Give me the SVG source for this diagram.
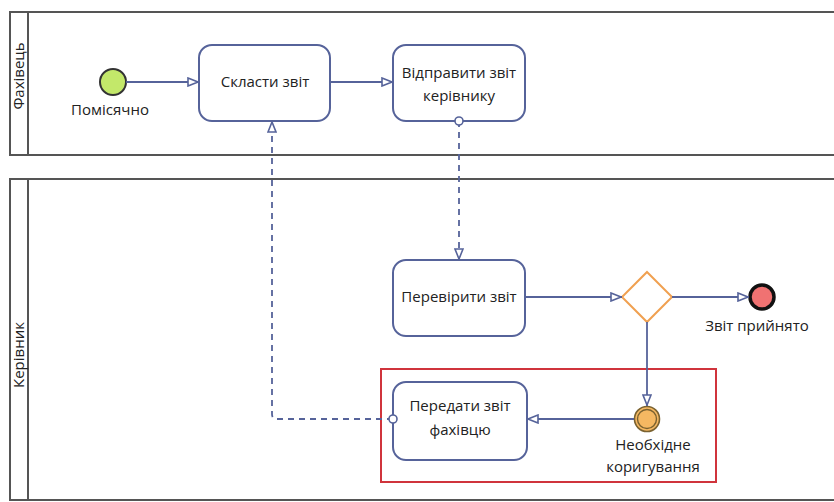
<svg xmlns="http://www.w3.org/2000/svg" width="834" height="502" viewBox="0 0 834 502">
<style>
.lane{fill:#fff;stroke:#555;stroke-width:2}
.task{fill:#fff;stroke:#56639a;stroke-width:2}
.flow{fill:none;stroke:#56639a;stroke-width:1.8}
.msg{fill:none;stroke:#56639a;stroke-width:1.8;stroke-dasharray:6,5}
.t{font-family:"Open Sans","Noto Sans",sans-serif;font-size:15px;fill:#222;text-anchor:middle}
</style>
<defs>
<marker id="arr" viewBox="0 0 12 10" refX="12" refY="5" markerWidth="12" markerHeight="10" markerUnits="userSpaceOnUse" orient="auto">
<path d="M1,1 L11,5 L1,9 Z" fill="#fff" stroke="#56639a" stroke-width="1.6"/>
</marker>
<marker id="dot" viewBox="0 0 10 10" refX="5" refY="5" markerWidth="10" markerHeight="10" markerUnits="userSpaceOnUse">
<circle cx="5" cy="5" r="4" fill="#fff" stroke="#56639a" stroke-width="1.6"/>
</marker>
</defs>
<g id="lane-fakhivets">
<rect class="lane" x="10" y="12" width="830" height="143"/>
<line x1="28" y1="12" x2="28" y2="155" stroke="#555" stroke-width="2"/>
<text class="t" transform="translate(24,76) rotate(-90)">Фахівець</text>
</g>
<g id="lane-kerivnyk">
<rect class="lane" x="10" y="179" width="830" height="321"/>
<line x1="28" y1="179" x2="28" y2="500" stroke="#555" stroke-width="2"/>
<text class="t" transform="translate(24,355) rotate(-90)">Керівник</text>
</g>
<g id="group-red">
<rect x="381" y="369" width="335" height="113" fill="none" stroke="#d0343c" stroke-width="2"/>
</g>
<g id="start">
<circle cx="113" cy="82" r="13" fill="#c3e86a" stroke="#333" stroke-width="2"/>
<text class="t" x="110" y="115">Помісячно</text>
</g>
<g id="task-sklasty">
<rect class="task" x="199" y="45" width="131" height="76" rx="13"/>
<text class="t" x="265" y="87">Скласти звіт</text>
</g>
<g id="task-vidpravyty">
<rect class="task" x="393" y="45" width="132" height="76" rx="13"/>
<text class="t" x="459" y="78">Відправити звіт</text>
<text class="t" x="459" y="101">керівнику</text>
</g>
<g id="task-pereviryty">
<rect class="task" x="393" y="260" width="132" height="76" rx="13"/>
<text class="t" x="459" y="302">Перевірити звіт</text>
</g>
<g id="gateway">
<path d="M647,272 L672,297 L647,322 L622,297 Z" fill="#fff" stroke="#f0a050" stroke-width="2"/>
</g>
<g id="end">
<circle cx="762" cy="297" r="12" fill="#f07272" stroke="#111" stroke-width="3.5"/>
<text class="t" x="757" y="331">Звіт прийнято</text>
</g>
<g id="event-koryguvannya">
<circle cx="647" cy="419" r="12.5" fill="#f5b862" stroke="#7a6230" stroke-width="1.6"/>
<circle cx="647" cy="419" r="9.5" fill="none" stroke="#7a6230" stroke-width="1.4"/>
<text class="t" x="653" y="450">Необхідне</text>
<text class="t" x="653" y="472">коригування</text>
</g>
<g id="task-peredaty">
<rect class="task" x="393" y="382" width="134" height="78" rx="13"/>
<text class="t" x="460" y="411">Передати звіт</text>
<text class="t" x="460" y="435">фахівцю</text>
</g>
<g id="connectors">
<line class="flow" x1="126" y1="82" x2="199" y2="82" marker-end="url(#arr)"/>
<line class="flow" x1="330" y1="82" x2="393" y2="82" marker-end="url(#arr)"/>
<line class="msg" x1="459" y1="121" x2="459" y2="260" marker-start="url(#dot)" marker-end="url(#arr)"/>
<line class="flow" x1="525" y1="297" x2="622" y2="297" marker-end="url(#arr)"/>
<line class="flow" x1="672" y1="297" x2="749" y2="297" marker-end="url(#arr)"/>
<line class="flow" x1="647" y1="322" x2="647" y2="406" marker-end="url(#arr)"/>
<line class="flow" x1="634" y1="419" x2="527" y2="419" marker-end="url(#arr)"/>
<path class="msg" d="M393,419 H277 Q272,419 272,414 V121" marker-start="url(#dot)" marker-end="url(#arr)"/>
</g>
</svg>
